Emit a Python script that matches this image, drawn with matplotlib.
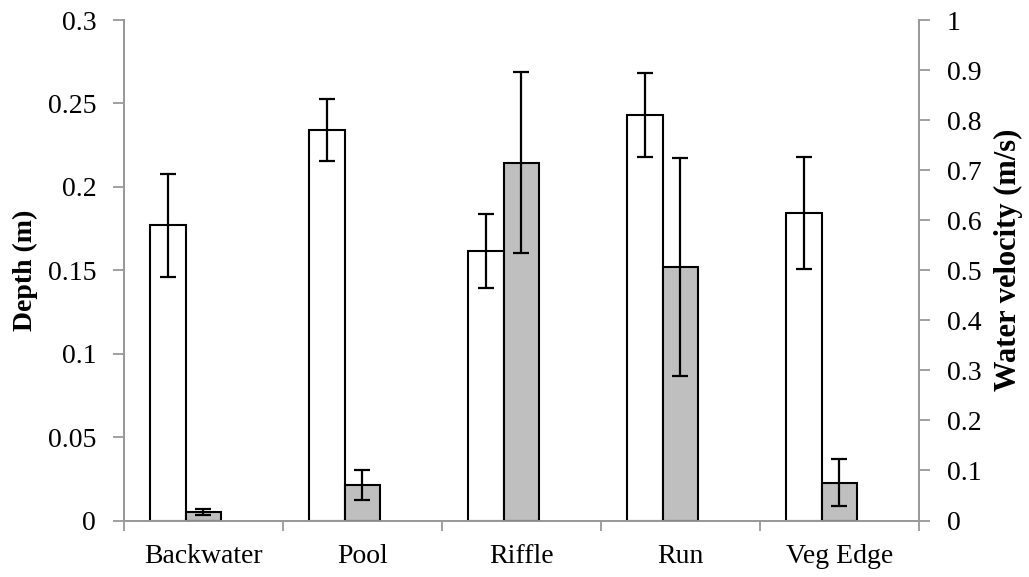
import matplotlib
matplotlib.use("Agg")
from matplotlib import pyplot as plt
from matplotlib.ticker import FuncFormatter
import numpy as np

plt.rcParams['font.family'] = ['Liberation Serif', 'DejaVu Serif']

# data
habitats = ['Backwater', 'Pool', 'Riffle', 'Run', 'Veg Edge']
depth = [0.177, 0.234, 0.1615, 0.243, 0.1845]
depth_err = [0.031, 0.0184, 0.0222, 0.025, 0.0335]
velocity = [0.017, 0.0704, 0.715, 0.507, 0.075]
velocity_err = [0.006, 0.0303, 0.1806, 0.218, 0.047]

spine_col = '#999999'
x = np.arange(len(habitats))
w = 0.225

fig = plt.figure(figsize=(10.29, 5.77), dpi=100)
ax = fig.add_axes([0.1205, 0.0979, 0.7726, 0.8674])
ax2 = ax.twinx()

ax.bar(x - w, depth, w, color='white', edgecolor='black', linewidth=1.5,
       yerr=depth_err, error_kw=dict(ecolor='black', elinewidth=1.6, capsize=6, capthick=1.6))
ax2.bar(x, velocity, w, color='#BFBFBF', edgecolor='black', linewidth=1.5,
        yerr=velocity_err, error_kw=dict(ecolor='black', elinewidth=1.6, capsize=6, capthick=1.6))

ax.set_xlim(-0.5, len(habitats) - 0.5)
ax.set_ylim(0, 0.3)
ax2.set_ylim(0, 1)
ax.set_yticks(np.arange(0, 0.3001, 0.05))
ax2.set_yticks(np.arange(0, 1.0001, 0.1))
fmt = FuncFormatter(lambda v, p: ('%.2f' % v).rstrip('0').rstrip('.') if v != 0 else '0')
ax.yaxis.set_major_formatter(fmt)
ax2.yaxis.set_major_formatter(fmt)

# category labels between boundary ticks
ax.set_xticks(np.arange(-0.5, len(habitats), 1.0))
ax.set_xticklabels([])
ax.set_xticks(x, minor=True)
ax.set_xticklabels(habitats, minor=True)
ax.tick_params(axis='x', which='minor', length=0, pad=17, labelsize=20)
ax.tick_params(axis='x', which='major', length=7, width=1.3, color=spine_col)

ax.tick_params(axis='y', length=8, width=1.3, color=spine_col, labelsize=20, pad=12)
ax2.tick_params(axis='y', length=8, width=1.3, color=spine_col, labelsize=20, pad=12)

for a in (ax, ax2):
    a.spines['top'].set_visible(False)
    for s in ('left', 'right', 'bottom'):
        a.spines[s].set_color(spine_col)
        a.spines[s].set_linewidth(1.3)

ax.set_ylabel('Depth (m)', fontsize=20, fontweight='bold')
ax.yaxis.set_label_coords(-0.108, 0.5)
ax2.set_ylabel('Water velocity (m/s)', fontsize=22, fontweight='bold')
ax2.yaxis.set_label_coords(1.094, 0.52)

fig.savefig('out.png', dpi=100)
